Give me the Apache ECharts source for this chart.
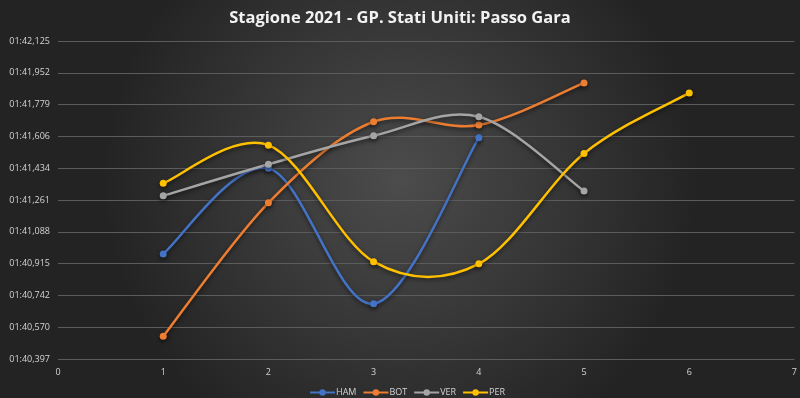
<!DOCTYPE html>
<html>
<head>
<meta charset="utf-8">
<title>Passo Gara</title>
<script src="https://cdn.jsdelivr.net/npm/echarts@6/dist/echarts.min.js"></script>
<style>
  html, body { margin: 0; padding: 0; background: #2a2a2a; }
  #chart { width: 800px; height: 398px; }
</style>
</head>
<body>
<div id="chart"></div>
<script>
  // giri (asse x) e tempi in secondi
  var ham = [100.968, 101.433, 100.697, 101.599]
  var bot = [100.520, 101.246, 101.686, 101.668, 101.897]
  var ver = [101.284, 101.455, 101.610, 101.713, 101.310]
  var per = [101.352, 101.559, 100.926, 100.914, 101.514, 101.843]

  var yTickLabels = ['01:40,397', '01:40,570', '01:40,742', '01:40,915', '01:41,088',
    '01:41,261', '01:41,434', '01:41,606', '01:41,779', '01:41,952', '01:42,125']
  var yMin = 100.397
  var yMax = 102.125

  // punti [giro, tempo - yMin]: l'asse parte da 0 così i tick partono dal minimo
  function toPoints(arr) {
    return arr.map(function (v, i) { return [i + 1, +(v - yMin).toFixed(4)] })
  }

  var chart = echarts.init(document.getElementById('chart'))
  var labelColor = '#d4d4d4'
  var shadow = { shadowColor: 'rgba(0,0,0,0.55)', shadowBlur: 4, shadowOffsetY: 2 }

  // curva "smussata" come in Excel (Catmull-Rom, tratti bezier tra i punti)
  function curveSeries(name, data, color) {
    var pts = toPoints(data)
    return {
      name: name + '_curve',
      type: 'custom',
      data: pts,
      encode: { x: 0, y: 1 },
      z: 2,
      silent: true,
      renderItem: function (params, api) {
        var i = params.dataIndex
        var n = pts.length
        if (i >= n - 1) return null
        var p0 = api.coord(pts[Math.max(i - 1, 0)])
        var p1 = api.coord(pts[i])
        var p2 = api.coord(pts[i + 1])
        var p3 = api.coord(pts[Math.min(i + 2, n - 1)])
        return {
          type: 'bezierCurve',
          shape: {
            x1: p1[0], y1: p1[1],
            x2: p2[0], y2: p2[1],
            cpx1: p1[0] + (p2[0] - p0[0]) / 6,
            cpy1: p1[1] + (p2[1] - p0[1]) / 6,
            cpx2: p2[0] - (p3[0] - p1[0]) / 6,
            cpy2: p2[1] - (p3[1] - p1[1]) / 6
          },
          style: Object.assign({ stroke: color, lineWidth: 2.5, fill: null }, shadow)
        }
      }
    }
  }

  // solo i marcatori (la linea la disegna la curva sopra)
  function markerSeries(name, data, color) {
    return {
      name: name,
      type: 'line',
      data: toPoints(data),
      symbol: 'circle',
      symbolSize: 7,
      color: color,
      lineStyle: { width: 2.5, opacity: 0 },
      itemStyle: Object.assign({ color: color }, shadow),
      z: 3
    }
  }

  var option = {
    backgroundColor: {
      type: 'radial', x: 0.5, y: 0.45, r: 0.75,
      colorStops: [
        { offset: 0, color: '#4c4c4c' },
        { offset: 1, color: '#232323' }
      ]
    },
    title: {
      text: 'Stagione 2021 - GP. Stati Uniti: Passo Gara',
      left: 'center',
      top: 5,
      textStyle: { color: '#f2f2f2', fontSize: 16.5, fontWeight: 'bold', fontFamily: 'Open Sans' }
    },
    legend: {
      bottom: 1,
      left: 309,
      padding: 0,
      itemWidth: 25,
      itemHeight: 8,
      itemGap: 6,
      lineStyle: { opacity: 1 },
      textStyle: { color: labelColor, fontSize: 9, fontFamily: 'Open Sans', padding: [0, 0, 0, -4] },
      data: ['HAM', 'BOT', 'VER', 'PER']
    },
    grid: { left: 58, right: 4, top: 41, bottom: 39, containLabel: false },
    xAxis: {
      type: 'value',
      min: 0,
      max: 7,
      interval: 1,
      axisLine: { show: false },
      axisTick: { show: false },
      splitLine: { show: false },
      axisLabel: { color: labelColor, fontSize: 9, margin: 9, fontFamily: 'Open Sans' }
    },
    yAxis: {
      type: 'value',
      min: 0,
      max: +(yMax - yMin).toFixed(4),
      interval: 0.1728,
      axisLine: { show: false },
      axisTick: { show: false },
      splitLine: { lineStyle: { color: '#5c5c5c', width: 1 } },
      axisLabel: {
        color: labelColor,
        fontSize: 9,
        margin: 8,
        fontFamily: 'Open Sans',
        formatter: function (v, i) { return yTickLabels[i] }
      }
    },
    series: [
      markerSeries('HAM', ham, '#4472C4'),
      markerSeries('BOT', bot, '#ED7D31'),
      markerSeries('VER', ver, '#A5A5A5'),
      markerSeries('PER', per, '#FFC000'),
      curveSeries('HAM', ham, '#4472C4'),
      curveSeries('BOT', bot, '#ED7D31'),
      curveSeries('VER', ver, '#A5A5A5'),
      curveSeries('PER', per, '#FFC000')
    ]
  }
  chart.setOption(option)
</script>
</body>
</html>
